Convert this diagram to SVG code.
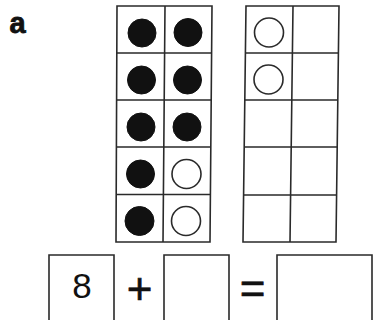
<svg xmlns="http://www.w3.org/2000/svg" width="373" height="320" viewBox="0 0 373 320">
<style>
.ln{fill:none;stroke:#2a2a2a;stroke-width:1.6}
.full{fill:#111;stroke:#111;stroke-width:1}
.open{fill:#fff;stroke:#2a2a2a;stroke-width:1.6}
.t{font-family:"Liberation Sans",Arial,sans-serif;fill:#111}
</style>
<rect width="373" height="320" fill="#fff"/>
<text id="label-a" class="t" x="9.5" y="33" font-size="29" font-weight="bold" stroke="#111" stroke-width="0.8">a</text>
<g id="frame-left">
<path class="ln" d="M117,6 L212,6 L210,242 L116,242 Z M165,6 L163,242 M117,53 L211.5,53 M116.8,100 L211.2,100 M116.6,147 L210.8,147 M116.3,194.5 L210.4,194.5"/>
<circle class="full" cx="142" cy="33" r="14"/>
<circle class="full" cx="188" cy="32.5" r="14"/>
<circle class="full" cx="141.5" cy="80" r="14"/>
<circle class="full" cx="187.5" cy="80" r="14"/>
<circle class="full" cx="141" cy="127" r="14"/>
<circle class="full" cx="187" cy="127" r="14"/>
<circle class="full" cx="140.5" cy="174" r="14"/>
<circle class="open" cx="186.5" cy="174" r="14.5"/>
<circle class="full" cx="139.5" cy="221" r="14.5"/>
<circle class="open" cx="186" cy="221" r="14.5"/>
</g>
<g id="frame-right">
<path class="ln" d="M246,6 L339,6 L336,242 L243,242 Z M293,6 L290,242 M245.4,53 L338.4,53 M244.8,100 L337.8,100 M244.2,147 L337.2,147 M243.6,195 L336.6,195"/>
<circle class="open" cx="269" cy="32.5" r="14.5"/>
<circle class="open" cx="268.5" cy="79.5" r="14.5"/>
</g>
<g id="box-1">
<path class="ln" d="M49,320 L49,255 L114,255 L114,320"/>
<text class="t" x="82" y="298" font-size="35" text-anchor="middle">8</text>
</g>
<text id="plus" class="t" x="139.5" y="303.5" font-size="44" text-anchor="middle" stroke="#111" stroke-width="0.6">+</text>
<g id="box-2">
<path class="ln" d="M164,320 L164,255 L229,255 L229,320"/>
</g>
<text id="equals" class="t" x="252.5" y="303.5" font-size="44" text-anchor="middle" stroke="#111" stroke-width="0.6">=</text>
<g id="box-3">
<path class="ln" d="M277,320 L277,255 L372,255 L372,320"/>
</g>
</svg>
